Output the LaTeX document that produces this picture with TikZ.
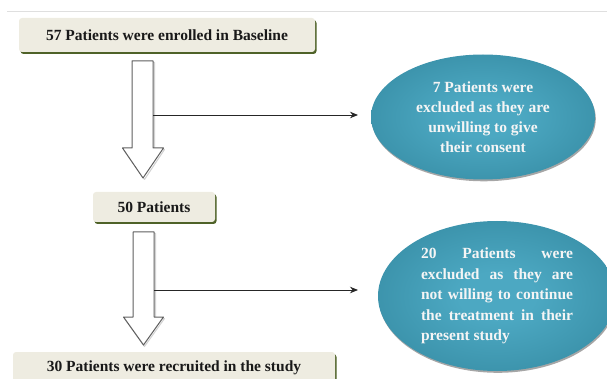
\documentclass[tikz,border=0pt]{standalone}
\usepackage{fontspec}
\setmainfont{Liberation Serif}
\usetikzlibrary{arrows.meta,shapes.geometric,shadows}
\definecolor{boxfill}{RGB}{238,236,225}
\definecolor{boxshadow}{RGB}{79,98,40}
\definecolor{tealL}{RGB}{76,168,194}
\definecolor{tealD}{RGB}{38,119,141}
\definecolor{arrowgray}{RGB}{95,95,95}
\pgfdeclareradialshading{tealshade}{\pgfpoint{0bp}{0bp}}{color(0bp)=(tealL); color(8bp)=(tealL); color(50bp)=(tealD)}
\begin{document}
\begin{tikzpicture}[x=1pt,y=-1pt,
  box/.style={fill=boxfill, rounded corners=3pt, inner sep=0pt, text=black!90,
    font=\bfseries\fontsize{15.5}{18}\selectfont,
    drop shadow={shadow xshift=1.5pt, shadow yshift=-2pt, fill=boxshadow, opacity=1}},
  ell/.style={ellipse, shading=tealshade, inner sep=0pt, text=white!96!black,
    font=\bfseries\fontsize{15.5}{20}\selectfont,
    drop shadow={shadow xshift=0.8pt, shadow yshift=-1.8pt, fill=black, opacity=0.35}},
  blockarrow/.style={draw=arrowgray, line width=1pt, fill=white, line join=round},
  connector/.style={draw=black!85, line width=0.9pt, -{Stealth[length=8pt,width=6.5pt]}}]
\useasboundingbox (0,0) rectangle (607,379);
\clip (0,0) rectangle (607,379);
% top rule
\draw[gray!25, line width=0.8pt] (7,11) -- (607,11);
% boxes
\node[box, minimum width=296, minimum height=34] (b1) at (167,35) {57 Patients were enrolled in Baseline};
\node[box, minimum width=122, minimum height=30] (b2) at (154,207) {50 Patients};
\node[box, minimum width=322, minimum height=32] (b3) at (174,368) {30 Patients were recruited in the study};
% ellipses
\node[ell, minimum width=224, minimum height=125, align=center] (e1) at (483,117)
  {7 Patients were\\excluded as they are\\unwilling to give\\their consent};
\node[ell, minimum width=238, minimum height=150] (e2) at (497,296)
  {\parbox{152pt}{\hyphenpenalty=10000\fontsize{15.5}{20.5}\selectfont\bfseries
   20 Patients were\linebreak excluded as they are\linebreak not willing to continue\linebreak the treatment in their\linebreak present study}};
% block arrows
\draw[gray!35, line width=1pt, line join=round] (133.5,62.5) -- (154.5,62.5) -- (154.5,149.5) -- (164.5,149.5) -- (144.5,179.5) -- (123.5,149.5) -- (133.5,149.5) -- cycle;
\draw[blockarrow] (132,61) -- (153,61) -- (153,148) -- (163.5,148) -- (143,178) -- (122.5,148) -- (132,148) -- cycle;
\draw[gray!35, line width=1pt, line join=round] (134.5,233.5) -- (155.5,233.5) -- (155.5,318.5) -- (164.5,318.5) -- (144.5,346.5) -- (124.5,318.5) -- (134.5,318.5) -- cycle;
\draw[blockarrow] (133,232) -- (154,232) -- (154,317) -- (163.5,317) -- (143.5,345) -- (123.5,317) -- (133,317) -- cycle;
% connectors
\coordinate (a1) at (153,115);
\coordinate (t1) at (358,115);
\coordinate (a2) at (154,290);
\coordinate (t2) at (358,290);
\draw[connector] (a1) -- (t1);
\draw[connector] (a2) -- (t2);
\end{tikzpicture}
\end{document}
